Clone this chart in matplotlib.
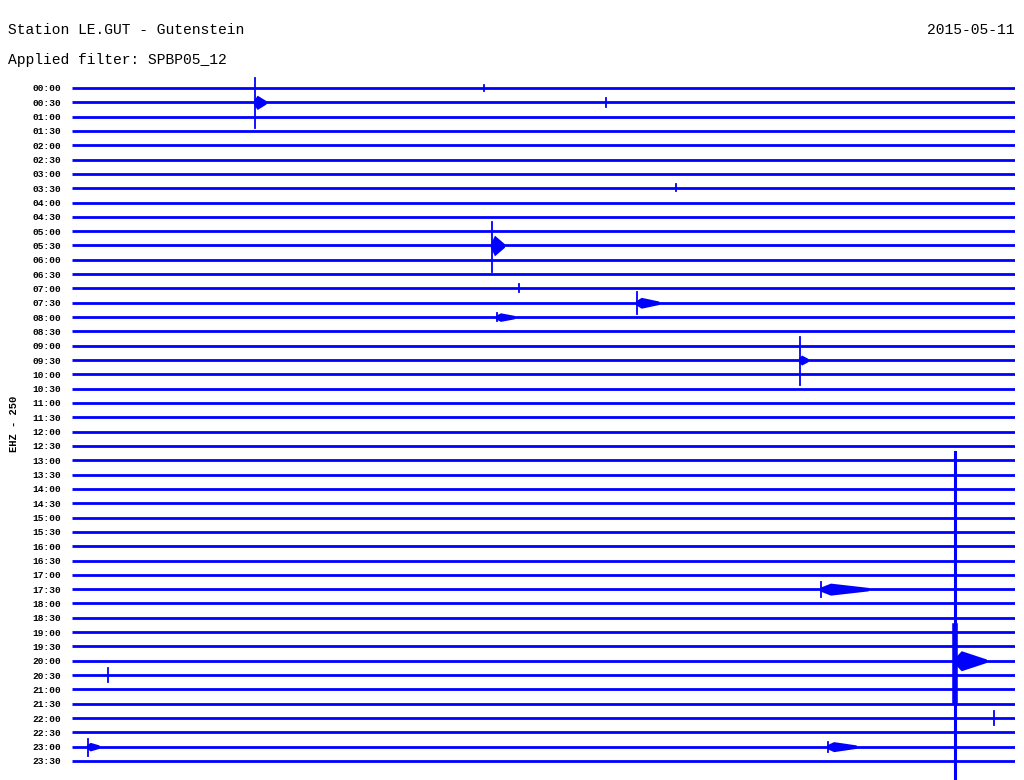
import matplotlib
matplotlib.use("Agg")
import matplotlib.pyplot as plt

# helicorder, one trace per half hour
trace_labels = ["00:00", "00:30", "01:00", "01:30", "02:00", "02:30", "03:00", "03:30",
                "04:00", "04:30", "05:00", "05:30", "06:00", "06:30", "07:00", "07:30",
                "08:00", "08:30", "09:00", "09:30", "10:00", "10:30", "11:00", "11:30",
                "12:00", "12:30", "13:00", "13:30", "14:00", "14:30", "15:00", "15:30",
                "16:00", "16:30", "17:00", "17:30", "18:00", "18:30", "19:00", "19:30",
                "20:00", "20:30", "21:00", "21:30", "22:00", "22:30", "23:00", "23:30"]

# events: trace index, minute in the trace, spike up / down (in trace spacings),
# coda half-amplitude and coda length (minutes)
event_trace = [1, 1, 7, 11, 14, 15, 16, 19, 35, 40, 41, 44, 46, 46, 0]
event_minute = [5.82, 16.99, 19.21, 13.36, 14.22, 17.97, 13.52, 23.16,
                23.83, 28.09, 1.15, 29.33, 0.51, 24.05, 13.1]
event_up = [1.70, 0.30, 0.28, 1.65, 0.28, 0.75, 0.28, 1.60,
            0.50, 14.6, 0.50, 0.50, 0.55, 0.35, 0.20]
event_down = [1.80, 0.30, 0.22, 1.85, 0.22, 0.75, 0.28, 1.75,
              0.55, 9.5, 0.50, 0.50, 0.62, 0.35, 0.20]
event_coda = [0.50, 0.0, 0.0, 0.72, 0.0, 0.38, 0.30, 0.35,
              0.42, 0.70, 0.0, 0.0, 0.30, 0.35, 0.0]
event_coda_len = [0.35, 0.0, 0.0, 0.40, 0.0, 0.70, 0.55, 0.25,
                  1.50, 1.00, 0.0, 0.0, 0.35, 0.90, 0.0]

noise = 0.12
blue = "#0000ff"

fig = plt.figure(figsize=(10.24, 7.8), dpi=100)
ax = fig.add_axes([72 / 1024, 0, 943 / 1024, 1 - 70 / 780])

n = len(trace_labels)
for i in range(n):
    ax.plot([0, 30], [i, i], color=blue, lw=2.0, solid_capstyle="butt")

for t, m, up, dn, ca, cl in zip(event_trace, event_minute, event_up, event_down,
                                event_coda, event_coda_len):
    lw = 2.2 if up > 5 else 1.3
    ax.plot([m, m], [t - up, t + dn], color=blue, lw=lw, clip_on=False)
    if ca > 0:
        # spindle: fast rise, slow decay
        xs = [m - 0.05, m + 0.2 * cl, m + cl]
        ax.fill_between(xs, [t - noise, t - ca, t - noise],
                        [t + noise, t + ca, t + noise], color=blue, lw=0)
# thick core of the big 20:00 event
ax.plot([28.09, 28.09], [40 - 2.4, 40 + 2.8], color=blue, lw=4, clip_on=False)

ax.set_xlim(0, 30)
ax.set_ylim(48.33, -1.257)
ax.set_xticks([])
ax.set_yticks(range(n))
ax.set_yticklabels(trace_labels, family="Liberation Mono", fontsize=6.8,
                   fontweight="bold")
ax.tick_params(axis="y", length=0, pad=8)
for s in ax.spines.values():
    s.set_visible(False)

fig.text(8 / 1024, 1 - 30 / 780, "Station LE.GUT - Gutenstein", family="Liberation Mono",
         fontsize=10.5, va="center", ha="left")
fig.text(8 / 1024, 1 - 60 / 780, "Applied filter: SPBP05_12", family="Liberation Mono",
         fontsize=10.5, va="center", ha="left")
fig.text(1015 / 1024, 1 - 30 / 780, "2015-05-11", family="Liberation Mono",
         fontsize=10.5, va="center", ha="right")
fig.text(14 / 1024, 1 - 424 / 780, "EHZ - 250", family="Liberation Mono",
         fontsize=7.5, fontweight="bold", va="center", ha="center", rotation=90)

fig.savefig("out.png", dpi=100, facecolor="white")
